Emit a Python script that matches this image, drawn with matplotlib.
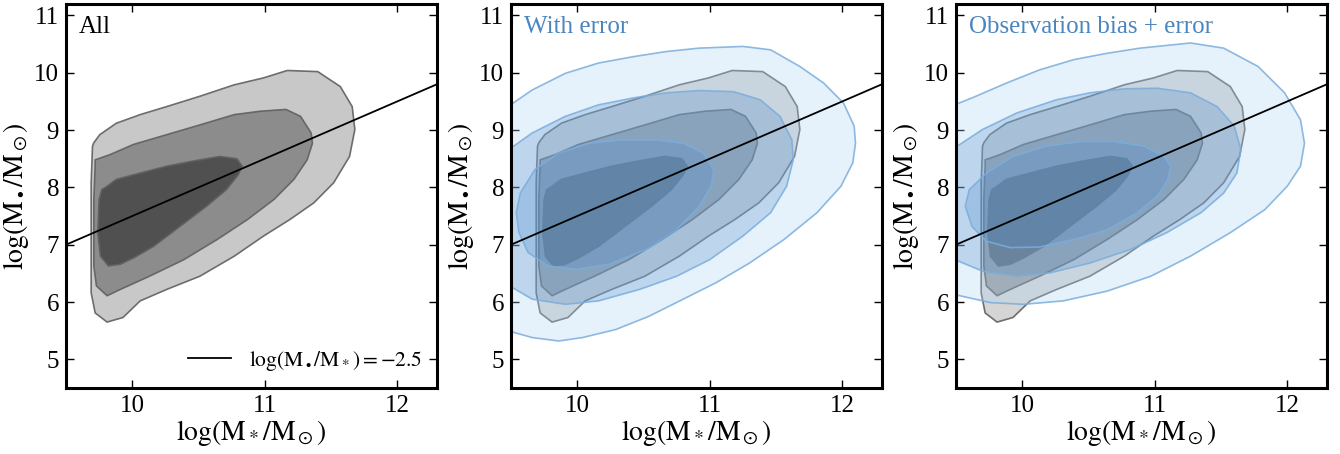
import matplotlib
matplotlib.use("Agg")
import matplotlib.pyplot as plt
import numpy as np

# ---------------- data ----------------
# intrinsic (gray) contours: outer, middle, inner
gray_outer_x = [9.71, 9.755, 9.88, 10.06, 10.26, 10.51, 10.77, 10.99, 11.17, 11.40, 11.57, 11.66, 11.68,
                11.64, 11.52, 11.37, 11.19, 10.99, 10.77, 10.51, 10.26, 10.06, 9.93, 9.81, 9.72, 9.69,
                9.69, 9.69, 9.70]
gray_outer_y = [8.78, 8.92, 9.12, 9.27, 9.41, 9.59, 9.79, 9.91, 10.04, 10.02, 9.76, 9.41, 9.01,
                8.54, 8.08, 7.73, 7.44, 7.15, 6.80, 6.45, 6.22, 6.02, 5.73, 5.65, 5.81, 6.16,
                7.21, 8.08, 8.72]

gray_mid_x = [9.72, 9.83, 10.01, 10.26, 10.51, 10.77, 10.97, 11.16, 11.27, 11.35, 11.36, 11.32, 11.22,
              11.07, 10.87, 10.64, 10.39, 10.13, 9.91, 9.81, 9.73, 9.71, 9.71, 9.72]
gray_mid_y = [8.48, 8.57, 8.75, 8.92, 9.09, 9.27, 9.33, 9.36, 9.24, 8.95, 8.77, 8.48, 8.14,
              7.79, 7.44, 7.09, 6.74, 6.45, 6.22, 6.11, 6.28, 6.63, 7.79, 8.37]

gray_in_x = [9.81, 9.88, 10.06, 10.26, 10.46, 10.66, 10.79, 10.83, 10.80, 10.71, 10.56, 10.36, 10.16,
             10.01, 9.91, 9.82, 9.76, 9.74, 9.75, 9.77]
gray_in_y = [8.02, 8.14, 8.25, 8.37, 8.46, 8.54, 8.50, 8.37, 8.22, 7.96, 7.67, 7.32, 6.97,
             6.77, 6.66, 6.63, 6.80, 7.21, 7.79, 7.96]

# "With error" (blue) contours
err_outer_x = [9.30, 9.49, 9.66, 9.91, 10.16, 10.42, 10.67, 10.92, 11.25, 11.46, 11.68, 11.86, 12.01,
               12.09, 12.10, 12.08, 11.99, 11.81, 11.56, 11.30, 11.05, 10.80, 10.54, 10.29, 10.04,
               9.86, 9.66, 9.49, 9.30]
err_outer_y = [9.30, 9.43, 9.70, 9.99, 10.17, 10.28, 10.37, 10.43, 10.46, 10.40, 10.11, 9.82, 9.47,
               9.07, 8.77, 8.43, 8.02, 7.56, 7.09, 6.68, 6.34, 6.05, 5.75, 5.52, 5.38,
               5.32, 5.38, 5.49, 5.62]

err_mid_x = [9.30, 9.49, 9.66, 9.91, 10.16, 10.42, 10.67, 10.92, 11.18, 11.38, 11.53, 11.62, 11.63,
             11.58, 11.46, 11.25, 11.00, 10.75, 10.47, 10.16, 9.91, 9.66, 9.49, 9.30]
err_mid_y = [8.50, 8.67, 8.95, 9.24, 9.44, 9.56, 9.65, 9.69, 9.67, 9.53, 9.24, 8.83, 8.48,
             8.02, 7.56, 7.15, 6.74, 6.45, 6.22, 6.02, 5.96, 6.05, 6.28, 6.45]

err_in_x = [9.54, 9.57, 9.68, 9.86, 10.09, 10.34, 10.59, 10.80, 10.95, 11.03, 11.01, 10.92, 10.75,
            10.52, 10.24, 9.99, 9.78, 9.63, 9.56]
err_in_y = [7.56, 7.90, 8.31, 8.60, 8.77, 8.83, 8.83, 8.77, 8.60, 8.31, 8.02, 7.67, 7.26,
            6.92, 6.66, 6.57, 6.63, 6.86, 7.21]

# "Observation bias + error" (blue) contours
obs_outer_x = [9.30, 9.49, 9.65, 9.88, 10.13, 10.39, 10.64, 10.89, 11.27, 11.52, 11.78, 11.98, 12.10,
               12.13, 12.10, 12.00, 11.83, 11.57, 11.27, 10.97, 10.64, 10.31, 10.01, 9.76, 9.49, 9.30]
obs_outer_y = [9.35, 9.44, 9.59, 9.82, 10.05, 10.23, 10.34, 10.43, 10.52, 10.43, 10.11, 9.65, 9.18,
               8.77, 8.37, 8.02, 7.61, 7.21, 6.80, 6.45, 6.19, 6.02, 5.96, 5.99, 6.13, 6.25]

obs_mid_x = [9.30, 9.49, 9.70, 9.96, 10.26, 10.51, 10.77, 11.02, 11.27, 11.47, 11.60, 11.65, 11.62,
             11.52, 11.35, 11.09, 10.82, 10.51, 10.21, 9.96, 9.70, 9.49, 9.30]
obs_mid_y = [8.55, 8.69, 9.01, 9.30, 9.53, 9.65, 9.72, 9.73, 9.65, 9.41, 9.07, 8.66, 8.25,
             7.90, 7.56, 7.21, 6.92, 6.68, 6.51, 6.45, 6.54, 6.74, 6.90]

obs_in_x = [9.57, 9.60, 9.73, 9.93, 10.18, 10.44, 10.69, 10.92, 11.07, 11.12, 11.10, 11.02, 10.87,
            10.64, 10.39, 10.13, 9.91, 9.73, 9.62]
obs_in_y = [7.67, 7.96, 8.25, 8.54, 8.72, 8.80, 8.80, 8.72, 8.54, 8.37, 8.14, 7.85, 7.56,
            7.26, 7.09, 6.96, 6.95, 7.06, 7.32]

# reference relation log(M_bh/M_*) = -2.5
line_x = np.array([9.5, 12.3])
mass_ratio = -2.5

panel_titles = ["All", "With error", "Observation bias + error"]
x_ticks = [10, 11, 12]
y_ticks = [5, 6, 7, 8, 9, 10, 11]

# ---------------- style ----------------
plt.rcParams['font.family'] = ['Liberation Serif', 'DejaVu Serif']
plt.rcParams['mathtext.fontset'] = 'stix'

gray_fill = ['#c8c8c8', '#8c8c8c', '#505050']
gray_edge = '#606060'
blue_fill = ['#aad2f5', '#4687c8', '#4687c8']
blue_alpha = [0.3, 0.25, 0.25]
blue_edge = '#7aaddc'
text_blue = '#4a86bf'

fig = plt.figure(figsize=(13.4, 4.54), dpi=100)
lefts = [66, 511, 956]
axes = []
for L in lefts:
    ax = fig.add_axes([L / 1340, 66 / 454, 371 / 1340, 384 / 454])
    axes.append(ax)

gray_sets = [(gray_outer_x, gray_outer_y), (gray_mid_x, gray_mid_y), (gray_in_x, gray_in_y)]
blue_sets = {
    1: [(err_outer_x, err_outer_y), (err_mid_x, err_mid_y), (err_in_x, err_in_y)],
    2: [(obs_outer_x, obs_outer_y), (obs_mid_x, obs_mid_y), (obs_in_x, obs_in_y)],
}

for i, ax in enumerate(axes):
    g_alpha = 1.0 if i == 0 else 0.75
    for (xs, ys), c in zip(gray_sets, gray_fill):
        ax.fill(xs, ys, facecolor=c, edgecolor='none', alpha=g_alpha, zorder=1)
        ax.fill(xs, ys, facecolor='none', edgecolor=gray_edge, lw=1.2, alpha=0.9, zorder=1.5)
    if i > 0:
        for (xs, ys), c, a in zip(blue_sets[i], blue_fill, blue_alpha):
            ax.fill(xs, ys, facecolor=c, edgecolor='none', alpha=a, zorder=2)
            ax.fill(xs, ys, facecolor='none', edgecolor=blue_edge, lw=1.2, alpha=0.85, zorder=2.5)
    ax.plot(line_x, line_x + mass_ratio, color='black', lw=1.3, zorder=5,
            label=r'$\log(\mathrm{M}_\bullet/\mathrm{M}_*) = -2.5$')
    ax.set_xlim(9.5, 12.3)
    ax.set_ylim(4.5, 11.2)
    ax.set_xticks(x_ticks)
    ax.set_yticks(y_ticks)
    ax.tick_params(direction='in', length=6, width=1, top=True, right=True,
                   labelsize=18, pad=5)
    for s in ax.spines.values():
        s.set_linewidth(2.2)
    ax.set_xlabel(r'$\log(\mathrm{M}_*/\mathrm{M}_\odot)$', fontsize=20, labelpad=1)
    ax.set_ylabel(r'$\log(\mathrm{M}_\bullet/\mathrm{M}_\odot)$', fontsize=20, labelpad=2)
    ax.text(0.035, 0.925, panel_titles[i], transform=ax.transAxes, fontsize=18,
            color='black' if i == 0 else text_blue, va='baseline', ha='left')
    if i == 0:
        ax.legend(loc='lower right', frameon=False, fontsize=15.5, handlelength=2.0,
                  handletextpad=0.8, borderaxespad=0.3)

fig.savefig('out.png', dpi=100)
